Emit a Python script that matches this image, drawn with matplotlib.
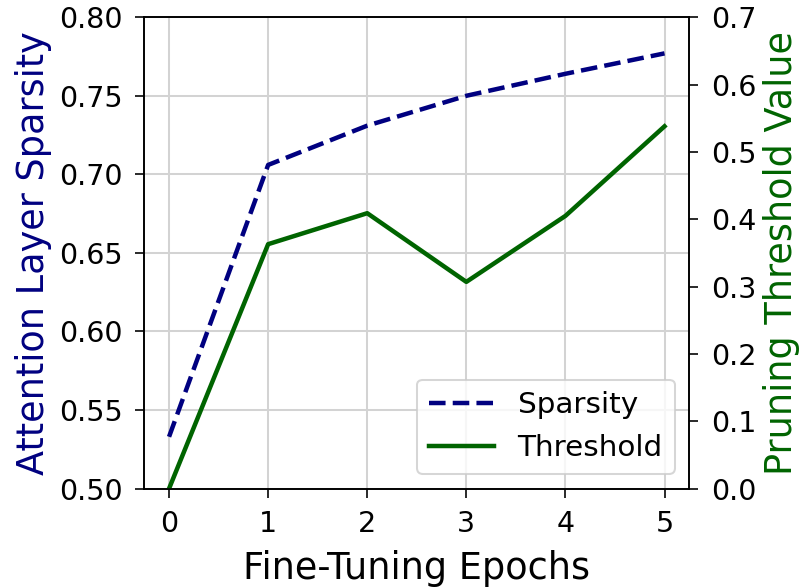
import matplotlib
matplotlib.use("Agg")
import matplotlib.pyplot as plt

epochs = [0, 1, 2, 3, 4, 5]
sparsity = [0.533, 0.706, 0.731, 0.750, 0.764, 0.777]
threshold = [0.0, 0.363, 0.409, 0.307, 0.405, 0.538]

sparsity_color = "#000080"
threshold_color = "#006400"

fig = plt.figure(figsize=(806 / 146.5, 588 / 146.5), dpi=146.5)
ax1 = fig.add_axes([0.179, 0.169, 0.6762, 0.8017])
ax2 = ax1.twinx()

l1, = ax1.plot(epochs, sparsity, "--", color=sparsity_color, lw=2.2, label="Sparsity")
l2, = ax2.plot(epochs, threshold, "-", color=threshold_color, lw=2.2, label="Threshold")

ax1.set_ylim(0.50, 0.80)
ax2.set_ylim(0.0, 0.7)
ax1.set_xticks(epochs)

ax1.set_xlabel("Fine-Tuning Epochs", fontsize=18, labelpad=6)
ax1.set_ylabel("Attention Layer Sparsity", fontsize=18, color=sparsity_color, labelpad=3.5)
ax2.set_ylabel("Pruning Threshold Value", fontsize=18, color=threshold_color, labelpad=3.5)
ax1.tick_params(labelsize=14, length=4.5, pad=6)
ax2.tick_params(labelsize=14, length=4.5, pad=6)

ax1.grid(True, color="#d3d3d3", lw=1.0)
ax1.set_axisbelow(True)

ax2.legend(handles=[l1, l2], loc="lower right", fontsize=14.5, handlelength=2.2)

fig.savefig("out.png", dpi=146.5)
